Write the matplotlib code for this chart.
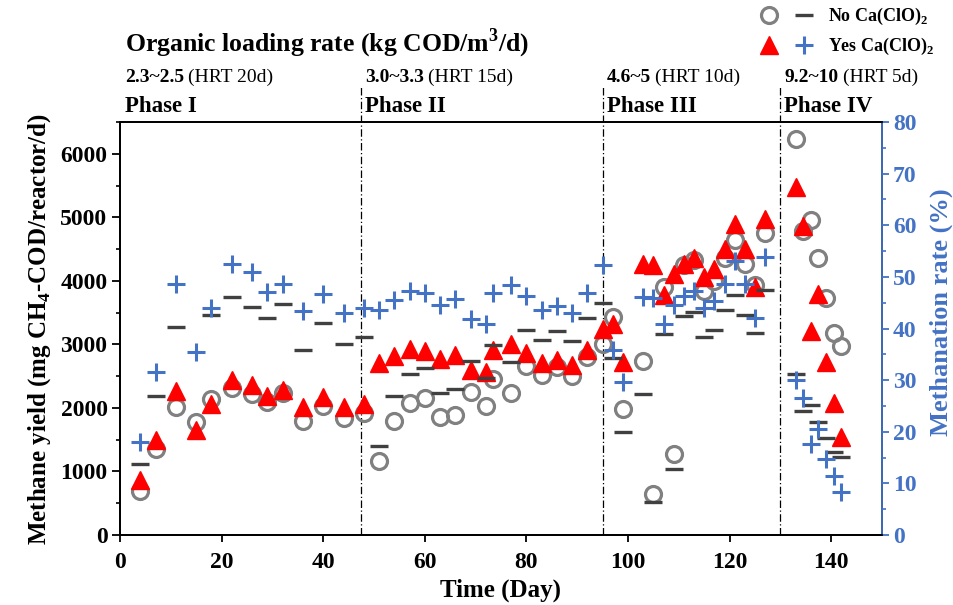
import numpy as np
import matplotlib
matplotlib.use('Agg')
import matplotlib.pyplot as plt
from matplotlib.ticker import MultipleLocator
from matplotlib.legend_handler import HandlerTuple

plt.rcParams['font.family'] = 'Liberation Serif'
plt.rcParams['mathtext.fontset'] = 'custom'
plt.rcParams['mathtext.rm'] = 'Liberation Serif'
plt.rcParams['mathtext.bf'] = 'Liberation Serif:bold'

# sampling days
days = [4, 7, 11, 15, 18, 22, 26, 29, 32, 36, 40, 44, 48,
        51, 54, 57, 60, 63, 66, 69, 72, 73.5, 77, 80, 83, 86, 89, 92, 95, 97,
        99, 103, 105, 107, 109, 111, 113, 115, 117, 119, 121, 123, 125, 127,
        133, 134.5, 136, 137.5, 139, 140.5, 142]

# methane yield (mg CH4-COD/reactor/d)
yield_no = [690, 1360, 2020, 1775, 2140, 2310, 2215, 2100, 2230, 1800, 2035, 1845, 1915,
            1165, 1790, 2080, 2160, 1855, 1895, 2245, 2035, 2455, 2235, 2665, 2520, 2640, 2510, 2805, 3005, 3435,
            1985, 2745, 645, 3905, 1280, 4250, 4335, 3840, 4000, 4360, 4640, 4270, 3930, 4755,
            6235, 4780, 4965, 4360, 3735, 3185, 2980]
yield_yes = [860, 1490, 2270, 1660, 2065, 2440, 2365, 2195, 2275, 2020, 2170, 2020, 2055,
             2700, 2810, 2935, 2900, 2770, 2830, 2595, 2560, 2910, 3005, 2865, 2715, 2755, 2675, 2910, 3240, 3320,
             2730, 4260, 4250, 3775, 4110, 4260, 4360, 4065, 4180, 4495, 4895, 4505, 3905, 4980,
             5470, 4860, 3215, 3800, 2730, 2080, 1540]

# methanation rate (%)
rate_no = [13.7, 27.0, 40.2, np.nan, 42.6, 46.1, 44.1, 42.1, 44.7, 35.9, 41.0, 37.0, 38.4,
           17.3, 26.9, 31.2, 32.3, 27.6, 28.3, 33.7, 30.4, 36.8, 33.6, 39.8, 37.7, 39.5, 37.6, 42.1, 44.9, 34.3,
           19.9, 27.3, 6.3, 39.0, 12.7, 42.4, 43.2, 38.4, 39.7, 43.5, 46.4, 42.7, 39.2, 47.4,
           31.2, 24.0, 25.1, 21.8, 18.8, 16.1, 15.1]
rate_yes = [18.0, 31.5, 48.6, 35.5, 44.0, 52.5, 50.9, 47.1, 48.6, 43.4, 46.6, 43.0, 44.0,
            43.5, 45.5, 47.2, 46.9, 44.5, 45.7, 41.8, 40.8, 46.9, 48.5, 46.3, 43.6, 44.3, 43.0, 46.9, 52.4, 35.8,
            29.6, 46.1, 45.9, 40.8, 44.5, 46.3, 47.2, 44.0, 45.3, 48.6, 53.0, 48.6, 42.1, 53.8,
            30.0, 26.5, 17.7, 20.6, 14.8, 11.4, 8.4]

phase_start = [0, 47.5, 95, 130]
phase_names = ['Phase I', 'Phase II', 'Phase III', 'Phase IV']
olr = ['2.3~2.5', '3.0~3.3', '4.6~5', '9.2~10']
hrt = ['(HRT 20d)', '(HRT 15d)', '(HRT 10d)', '(HRT 5d)']

blue = '#4472C4'

fig = plt.figure(figsize=(9.54, 6.05), dpi=100)
ax = fig.add_axes([0.1258, 0.1157, 0.7987, 0.6826])
ax2 = ax.twinx()

h1, = ax.plot(days, yield_no, 'o', ms=11.5, mfc='none', mec='#808080', mew=2.3, ls='none')
h2, = ax.plot(days, yield_yes, '^', ms=13, color='#FF0000', mec='#FF0000', ls='none')
h3, = ax2.plot(days, rate_no, '_', ms=13, mew=2.4, color='#404040', ls='none')
h4, = ax2.plot(days, rate_yes, '+', ms=13, mew=2.2, color=blue, ls='none')

ax.set_xlim(0, 150)
ax.set_ylim(0, 6500)
ax2.set_ylim(0, 80)
ax.xaxis.set_major_locator(MultipleLocator(20))
ax.yaxis.set_major_locator(MultipleLocator(1000))
ax.yaxis.set_minor_locator(MultipleLocator(500))
ax2.yaxis.set_major_locator(MultipleLocator(10))
ax2.yaxis.set_minor_locator(MultipleLocator(5))

for sp in ax.spines.values():
    sp.set_linewidth(1.3)
for sp in ax2.spines.values():
    sp.set_linewidth(1.3)
ax2.spines['right'].set_color(blue)

ax.tick_params(axis='x', which='major', direction='out', length=5, width=1.3,
               labelsize=17, pad=7, top=False)
ax.tick_params(axis='y', which='major', direction='out', length=6, width=1.3,
               labelsize=17, pad=3, right=False)
ax.tick_params(axis='y', which='minor', direction='out', length=3, width=1.2)
ax2.tick_params(axis='y', which='major', direction='out', length=5, width=1.3,
                labelsize=17, pad=3, colors=blue)
ax2.tick_params(axis='y', which='minor', direction='out', length=3, width=1.2, colors=blue)
for lab in ax.get_xticklabels() + ax.get_yticklabels() + ax2.get_yticklabels():
    lab.set_fontweight('bold')

ax.set_xlabel('Time (Day)', fontsize=18, fontweight='bold', labelpad=4)
ax.set_ylabel(r'Methane yield (mg CH$_\mathbf{4}$-COD/reactor/d)', fontsize=18, fontweight='bold', labelpad=5)
ax2.set_ylabel('Methanation rate (%)', fontsize=19, fontweight='bold', color=blue)
ax2.yaxis.set_label_coords(1.062, 0.54)

# phase boundaries and labels
trans = ax.get_xaxis_transform()
for i, x0 in enumerate(phase_start):
    if x0 > 0:
        ax.axvline(x0, ymin=0, ymax=1.09, clip_on=False, color='k', lw=0.9,
                   ls=(0, (6, 2, 1, 2)), zorder=0)
        tx = x0 + 0.8
    else:
        tx = 1.0
    ax.text(tx, 1.038, phase_names[i], transform=trans, fontsize=16.5, fontweight='bold',
            ha='left', va='center')
    t = ax.text(tx, 1.108, olr[i], transform=trans, fontsize=14, fontweight='bold',
                ha='left', va='center')
    ax.annotate(hrt[i], xy=(1, 0), xycoords=t, xytext=(3, 0), textcoords='offset points',
                fontsize=14, ha='left', va='bottom')

ax.text(1.0, 1.19, r'Organic loading rate (kg COD/m$^\mathbf{3}$/d)', transform=trans,
        fontsize=18.5, fontweight='bold', ha='left', va='center')

fig.legend(handles=[(h1, h3), (h2, h4)],
           labels=[r'No Ca(ClO)$_\mathbf{2}$', r'Yes Ca(ClO)$_\mathbf{2}$'],
           handler_map={tuple: HandlerTuple(ndivide=None, pad=0.3)},
           loc='upper left', bbox_to_anchor=(745 / 954, 1.005),
           frameon=False, borderpad=0, handlelength=3.6, handletextpad=0.5,
           labelspacing=0.5, prop={'weight': 'bold', 'size': 13})

fig.savefig('out.png', dpi=100)
